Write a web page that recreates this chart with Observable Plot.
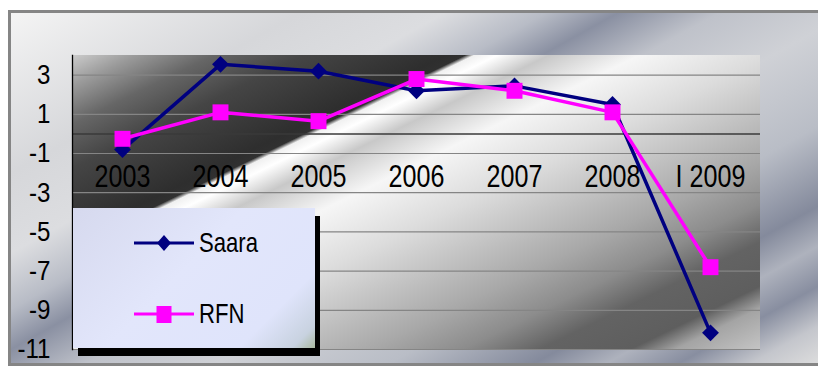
<!DOCTYPE html>
<html>
<head>
<meta charset="utf-8">
<script src="https://cdn.jsdelivr.net/npm/d3@7"></script>
<script src="https://cdn.jsdelivr.net/npm/@observablehq/plot@0.6"></script>
<style>
  html, body { margin: 0; padding: 0; background: #ffffff; }
  #wrap { position: relative; width: 818px; height: 367px; overflow: hidden;
          font-family: "Liberation Sans", Arial, sans-serif; }
  #frame { position: absolute; left: 8px; top: 10px; width: 813px; height: 350px;
           border: 3px solid #858585; box-sizing: content-box;
           background: linear-gradient(151deg, #f4f4f4 0%, #d6d7da 20%, #dcdde0 30%, #b8bcc6 37%, #8a90a2 42%, #bfc2ca 49%, #cfd1d6 58%, #b9bdc6 70%, #848a9c 80%, #aeb2bd 85%, #888ea0 90%, #c4c6cc 95%, #dedede 100%); }
  #plotbg { position: absolute; left: 72px; top: 55px; width: 688px; height: 294px;
            background: linear-gradient(154deg, #cccccc 0%, #9a9a9a 5%, #666666 11%, #454545 18%, #2e2e2e 29%, #303030 30.5%, #f0f0f0 31.2%, #ffffff 33%, #c8c8c8 37%, #f6f6f6 44%, #dcdcdc 54%, #c2c2c2 62%, #a8a8a8 70%, #8c8c8c 77%, #636363 83%, #5e5e5e 90%, #a4a4a4 93.5%, #c4c4c4 100%); }
  #chart { position: absolute; left: 0; top: 0; }
  #legend { position: absolute; left: 73px; top: 208px; width: 242px; height: 140px;
            background: linear-gradient(135deg, #d6d9ee 0%, #e2e6fb 45%, #dfe4fb 80%, #c8d2e0 94%, #a9b9a0 100%);
            box-shadow: 5px 8px 0 #000; }
  .item { position: absolute; left: 61px; height: 30px; display: flex; align-items: center; white-space: nowrap; }
  .item span { display: inline-block; font-size: 28px; color: #000; margin-left: 5px; line-height: 30px;
               transform: scaleX(0.79); transform-origin: left center; }
</style>
</head>
<body>
<div id="wrap">
  <div id="frame"></div>
  <div id="plotbg"></div>
  <div id="chart"></div>
  <div id="legend"></div>
</div>
<script>
const categories = ["2003", "2004", "2005", "2006", "2007", "2008", "I 2009"];
const saara = [-0.8, 3.55, 3.2, 2.2, 2.45, 1.5, -10.15];
const rfn = [-0.25, 1.1, 0.65, 2.8, 2.2, 1.1, -6.8];
const seriesNames = ["Saara", "RFN"];
const seriesColors = ["#000080", "#ff00ff"];
const yTicks = [3, 1, -1, -3, -5, -7, -9, -11];

const saaraData = categories.map((c, i) => ({cat: c, series: "Saara", value: saara[i]}));
const rfnData = categories.map((c, i) => ({cat: c, series: "RFN", value: rfn[i]}));

const chart = Plot.plot({
  width: 818,
  height: 367,
  marginLeft: 72,
  marginTop: 55,
  marginRight: 58,
  marginBottom: 18,
  style: {background: "transparent", fontFamily: '"Liberation Sans", Arial, sans-serif', color: "#000", overflow: "visible"},
  x: {type: "point", domain: categories, padding: 0.5, axis: null},
  y: {domain: [-11, 4], axis: null},
  color: {domain: seriesNames, range: seriesColors},
  marks: [
    Plot.gridY(yTicks, {stroke: "#858585", strokeOpacity: 1, strokeWidth: 1.2}),
    Plot.ruleY([0], {stroke: "#3a3a3a", strokeWidth: 1.5}),
    Plot.frame({anchor: "left", stroke: "#000", strokeWidth: 1.3}),
    Plot.axisY(yTicks, {tickSize: 0, tickPadding: 22, label: null, tickFormat: d => String(d), fontSize: 28, fill: "#000"}),
    Plot.text(categories, {x: d => d, y: () => 0, dy: 43, text: d => d, fontSize: 31, fill: "#000"}),
    Plot.line(saaraData, {x: "cat", y: "value", stroke: "series", strokeWidth: 3.5, curve: "linear"}),
    Plot.dot(saaraData, {x: "cat", y: "value", fill: "series", symbol: "diamond2", r: 7.6, stroke: "none"}),
    Plot.line(rfnData, {x: "cat", y: "value", stroke: "series", strokeWidth: 3.5, curve: "linear"}),
    Plot.dot(rfnData, {x: "cat", y: "value", fill: "series", symbol: "square", r: 9, stroke: "none"})
  ]
});
document.getElementById("chart").appendChild(chart);

// narrow the text horizontally (the original uses a condensed face)
function condense(selector, k) {
  chart.querySelectorAll(selector).forEach(t => {
    const w = t.getComputedTextLength();
    t.setAttribute("textLength", (w * k).toFixed(2));
    t.setAttribute("lengthAdjust", "spacingAndGlyphs");
  });
}
condense('g[aria-label="y-axis tick label"] text', 0.86);
condense('g[aria-label="text"] text', 0.81);

// Legend
const legend = document.getElementById("legend");
const legendTops = [20, 91];
seriesNames.forEach((name, i) => {
  const item = document.createElement("div");
  item.className = "item";
  item.style.top = legendTops[i] + "px";
  const sym = i === 0
    ? `<path d="M30,7 L37,15 L30,23 L23,15 Z" fill="${seriesColors[i]}"/>`
    : `<rect x="22.5" y="7" width="15" height="17" fill="${seriesColors[i]}"/>`;
  item.innerHTML = `<svg width="60" height="30"><line x1="0" x2="60" y1="15" y2="15" stroke="${seriesColors[i]}" stroke-width="3"/>${sym}</svg><span>${name}</span>`;
  legend.appendChild(item);
});
</script>
</body>
</html>
